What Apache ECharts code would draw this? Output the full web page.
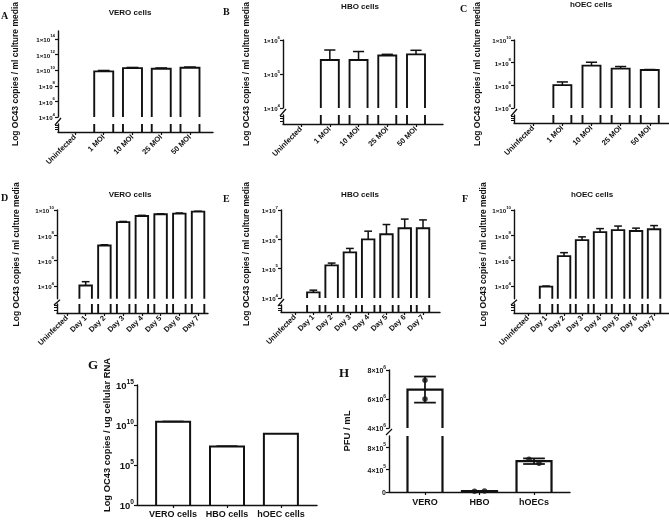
<!DOCTYPE html>
<html>
<head>
<meta charset="utf-8">
<script src="https://cdn.jsdelivr.net/npm/echarts@6.0.0/dist/echarts.min.js"></script>
<style>
  html, body { margin: 0; padding: 0; background: #fff; }
  #chart { width: 669px; height: 520px; }
</style>
</head>
<body>
<div id="chart"></div>
<script>
// categories
const moiCats = ['Uninfected', '1 MOI', '10 MOI', '25 MOI', '50 MOI']
const dayCats = ['Uninfected', 'Day 1', 'Day 2', 'Day 3', 'Day 4', 'Day 5', 'Day 6', 'Day 7']
const cellCats = ['VERO cells', 'HBO cells', 'hOEC cells']
const pfuCats = ['VERO', 'HBO', 'hOECs']

// A-C: copies / ml by MOI (mean and mean + SD)
const veroMoi = [null, 7e9, 1.8e10, 1.5e10, 2.0e10]
const veroMoiHi = [null, 9e9, 2.2e10, 1.9e10, 2.5e10]
const hboMoi = [null, 2.6e5, 2.6e5, 3.5e5, 3.8e5]
const hboMoiHi = [null, 5.1e5, 4.6e5, 3.8e5, 5.0e5]
const hoecMoi = [null, 1.05e6, 5.5e7, 3.0e7, 2.3e7]
const hoecMoiHi = [null, 2.0e6, 1.1e8, 4.6e7, 2.5e7]

// D-F: copies / ml by day
const veroDay = [null, 1.1e4, 1.6e7, 1.1e9, 3.4e9, 4.6e9, 5.2e9, 7.4e9]
const veroDayHi = [null, 2.2e4, 1.8e7, 1.25e9, 3.8e9, 5.0e9, 5.8e9, 8.0e9]
const hboDay = [null, 1.55e4, 1.3e5, 3.6e5, 1.0e6, 1.5e6, 2.4e6, 2.4e6]
const hboDayHi = [null, 1.85e4, 1.55e5, 4.9e5, 1.9e6, 3.2e6, 4.9e6, 4.6e6]
const hoecDay = [null, 9e3, 2.3e6, 4.2e7, 1.8e8, 2.6e8, 2.2e8, 3.0e8]
const hoecDayHi = [null, 1.0e4, 4.3e6, 7.6e7, 3.4e8, 5.4e8, 3.7e8, 5.9e8]

// G: copies / ug cellular RNA
const rnaMean = [2.5e10, 2.0e7, 8.0e8]
const rnaHi = [2.8e10, 2.3e7, null]

// H: PFU / mL
const pfuMean = [6.65e6, 1.5e4, 5.5e5]
const pfuHi = [7.55e6, 1.8e4, 6.0e5]
const pfuLo = [5.75e6, 1.2e4, 5.0e5]
const pfuPoints = [[7.3e6, 6.0e6], [1.4e4, 1.6e4], [5.85e5, 5.15e5]]

// tick labels
const ticksA = [1e4, 1e6, 1e8, 1e10, 1e12, 1e14]
const ticksB = [1e4, 1e5, 1e6]
const ticksC = [1e4, 1e6, 1e8, 1e10]
const ticksDF = [1e4, 1e6, 1e8, 1e10]
const ticksE = [1e4, 1e5, 1e6, 1e7]
const ticksG = [1, 1e5, 1e10, 1e15]
const ticksHUp = [4e6, 6e6, 8e6]
const ticksHLow = [0, 4e5, 8e5]

const SANS = '"Liberation Sans", Arial, sans-serif'
const SERIF = '"Liberation Serif", "Times New Roman", serif'
const INK = '#111'

const panels = [
  { id: 'A', title: 'VERO cells', cats: moiCats, mean: veroMoi, hi: veroMoiHi, ticks: ticksA, range: [1e4, 1e15],
    x: 58, x2: 213, up: [29, 117], low: [124, 132], pad: [-0.59, 4.8], barW: 19, nameGap: 38, titleAt: [130, 13], letterAt: [1, 16] },
  { id: 'B', title: 'HBO cells', cats: moiCats, mean: hboMoi, hi: hboMoiHi, ticks: ticksB, range: [1e4, 1e6],
    x: 283, x2: 443, up: [21, 108], low: [115, 124], pad: [-0.63, 4.94], barW: 18, nameGap: 32, titleAt: [360, 7], letterAt: [223, 12] },
  { id: 'C', title: 'hOEC cells', cats: moiCats, mean: hoecMoi, hi: hoecMoiHi, ticks: ticksC, range: [1e4, 1e10],
    x: 514, x2: 669, up: [21, 108], low: [115, 123], pad: [-0.66, 4.66], barW: 18, nameGap: 32, titleAt: [591, 5], letterAt: [460, 9] },
  { id: 'D', title: 'VERO cells', cats: dayCats, mean: veroDay, hi: veroDayHi, ticks: ticksDF, range: [1e3, 1e10],
    x: 57, x2: 208, up: [210, 298.7], low: [304, 313], pad: [-0.53, 7.53], barW: 12.5, nameGap: 36, titleAt: [130, 195], letterAt: [1, 198] },
  { id: 'E', title: 'HBO cells', cats: dayCats, mean: hboDay, hi: hboDayHi, ticks: ticksE, range: [1e4, 1e7],
    x: 281, x2: 440, up: [210, 298], low: [305, 312], pad: [-0.77, 7.93], barW: 12.5, nameGap: 30, titleAt: [360, 195], letterAt: [223, 199] },
  { id: 'F', title: 'hOEC cells', cats: dayCats, mean: hoecDay, hi: hoecDayHi, ticks: ticksDF, range: [1e3, 1e10],
    x: 514, x2: 669, up: [210, 298.7], low: [304, 313], pad: [-0.78, 7.83], barW: 12.5, nameGap: 25, titleAt: [592, 195], letterAt: [462, 199] }
]

const grid = []
const xAxis = []
const yAxis = []
const series = []
const graphic = []

function expLabel(v) {
  const e = Math.round(Math.log10(v))
  return '{b|1×10}{s|' + e + '}'
}

function richFor(fs) {
  return {
    b: { fontSize: fs, lineHeight: fs + 3, verticalAlign: 'bottom', fontWeight: 'bold', fontFamily: SANS, color: INK },
    s: { fontSize: fs * 0.7, lineHeight: fs * 0.7, verticalAlign: 'top', fontWeight: 'bold', fontFamily: SANS, color: INK }
  }
}

// open-bottom bar outline plus error bar, so broken segments look cut
function barRenderer(barW, lw) {
  return function (params, api) {
    const i = api.value(0)
    const v = api.value(1)
    const hi = api.value(2)
    const lo = api.value(3)
    const cs = params.coordSys
    const yBot = cs.y + cs.height
    const yTop = cs.y
    const c = api.coord([i, v])
    if (c[1] > yBot + 0.5) return
    const x0 = c[0] - barW / 2
    const x1 = c[0] + barW / 2
    const style = { stroke: INK, lineWidth: lw, fill: null, lineJoin: 'miter' }
    const children = []
    if (c[1] >= yTop) {
      children.push({ type: 'polyline', shape: { points: [[x0, yBot], [x0, c[1]], [x1, c[1]], [x1, yBot]] }, style: style })
      const capW = barW * 0.62
      const eStyle = { stroke: INK, lineWidth: lw * 0.8 }
      let yA = c[1]
      if (hi > 0) {
        const h = api.coord([i, hi])[1]
        children.push({ type: 'line', shape: { x1: c[0] - capW / 2, y1: h, x2: c[0] + capW / 2, y2: h }, style: eStyle })
        if (lo > 0) {
          const l = api.coord([i, lo])[1]
          children.push({ type: 'line', shape: { x1: c[0] - capW / 2, y1: l, x2: c[0] + capW / 2, y2: l }, style: eStyle })
          yA = l
        }
        children.push({ type: 'line', shape: { x1: c[0], y1: yA, x2: c[0], y2: h }, style: eStyle })
      }
    } else {
      children.push({ type: 'line', shape: { x1: x0, y1: yTop, x2: x0, y2: yBot }, style: style })
      children.push({ type: 'line', shape: { x1: x1, y1: yTop, x2: x1, y2: yBot }, style: style })
    }
    return { type: 'group', children: children }
  }
}

function barData(mean, hi, lo) {
  const out = []
  mean.forEach((m, i) => {
    if (m == null) return
    out.push([i, m, hi && hi[i] != null ? hi[i] : null, lo && lo[i] != null ? lo[i] : null])
  })
  return out
}

function catAxis(gridIndex, cats, pad, show, labelOpt) {
  const idx = cats.map((c, i) => i)
  return {
    gridIndex: gridIndex,
    type: 'value',
    min: pad[0],
    max: pad[1],
    show: show,
    splitLine: { show: false },
    axisLine: { show: true, onZero: false, lineStyle: { color: INK, width: 1.4 } },
    axisTick: { show: true, customValues: idx, length: 3, lineStyle: { color: INK, width: 1.2 } },
    axisLabel: Object.assign({
      customValues: idx,
      formatter: v => cats[Math.round(v)],
      color: INK,
      fontFamily: SANS,
      fontWeight: 'bold'
    }, labelOpt)
  }
}

function addSlash(x, yLow, yUp) {
  graphic.push({
    type: 'line', silent: true,
    shape: { x1: x - 3, y1: yLow, x2: x + 3, y2: yUp },
    style: { stroke: INK, lineWidth: 1.3 }
  })
}

function addText(text, x, y, font, opts) {
  graphic.push(Object.assign({
    type: 'text', silent: true, x: x, y: y,
    style: { text: text, font: font, fill: INK, align: 'center', verticalAlign: 'middle' }
  }, opts || {}))
}

function addLetter(id, x, y, size) {
  const font = 'bold ' + size + 'px ' + SERIF
  graphic.push({ type: 'text', silent: true, x: x, y: y, style: { text: id, font: font, fill: INK, align: 'left', verticalAlign: 'middle' } })
}

const yLine = { show: true, onZero: false, lineStyle: { color: INK, width: 1.4 } }

// panels A-F: log axis broken above the baseline
panels.forEach(p => {
  const gUp = grid.length
  grid.push({ left: p.x, top: p.up[0], width: p.x2 - p.x, height: p.up[1] - p.up[0] })
  const gLow = grid.length
  grid.push({ left: p.x, top: p.low[0], width: p.x2 - p.x, height: p.low[1] - p.low[0] })

  const xUp = xAxis.length
  xAxis.push(catAxis(gUp, p.cats, p.pad, false, {}))
  const xLow = xAxis.length
  xAxis.push(catAxis(gLow, p.cats, p.pad, true, { rotate: 45, fontSize: 7.5, margin: 4 }))

  const yUp = yAxis.length
  yAxis.push({
    gridIndex: gUp,
    type: 'log',
    logBase: 10,
    min: p.range[0],
    max: p.range[1] * 1.001,
    name: 'Log OC43 copies / ml culture media',
    nameLocation: 'middle',
    nameGap: p.nameGap,
    nameTextStyle: { fontFamily: SANS, fontWeight: 'bold', fontSize: 8.5, color: INK },
    splitLine: { show: false },
    axisLine: yLine,
    axisTick: { show: true, customValues: p.ticks, length: 3, lineStyle: { color: INK, width: 1.2 } },
    axisLabel: { customValues: p.ticks, formatter: expLabel, rich: richFor(6.2), margin: 3 }
  })
  const yLow = yAxis.length
  yAxis.push({
    gridIndex: gLow,
    type: 'value',
    min: 0,
    max: 1,
    splitLine: { show: false },
    axisLine: yLine,
    axisTick: { show: true, customValues: [0.3, 0.6, 0.9], length: 3, lineStyle: { color: INK, width: 1 } },
    axisLabel: { show: false }
  })

  const data = barData(p.mean, p.hi)
  series.push({ type: 'custom', xAxisIndex: xUp, yAxisIndex: yUp, clip: false, renderItem: barRenderer(p.barW, 1.9), data: data })
  series.push({ type: 'custom', xAxisIndex: xLow, yAxisIndex: yLow, clip: false, renderItem: barRenderer(p.barW, 1.9), data: data })

  addSlash(p.x, p.low[0] + 1, p.up[1] + 1)
  addText(p.title, p.titleAt[0], p.titleAt[1], 'bold 8px ' + SANS)
  addLetter(p.id, p.letterAt[0], p.letterAt[1], 10)
})

// panel G: plain log axis
{
  const g = grid.length
  grid.push({ left: 137, top: 385, width: 180, height: 120 })
  const xi = xAxis.length
  xAxis.push(catAxis(g, cellCats, [-0.67, 2.67], true, { fontSize: 9, margin: 5 }))
  const yi = yAxis.length
  yAxis.push({
    gridIndex: g,
    type: 'log',
    logBase: 10,
    min: 1,
    max: 1.001e15,
    name: 'Log OC43 copies / ug cellular RNA',
    nameLocation: 'middle',
    nameGap: 24,
    nameTextStyle: { fontFamily: SANS, fontWeight: 'bold', fontSize: 9.4, color: INK, padding: [0, 0, 0, 20] },
    splitLine: { show: false },
    axisLine: yLine,
    axisTick: { show: true, customValues: ticksG, length: 3, lineStyle: { color: INK, width: 1.2 } },
    axisLabel: {
      customValues: ticksG,
      formatter: v => '{b|10}{s|' + Math.round(Math.log10(v)) + '}',
      rich: richFor(9.5),
      margin: 3
    }
  })
  series.push({ type: 'custom', xAxisIndex: xi, yAxisIndex: yi, clip: false, renderItem: barRenderer(34, 2), data: barData(rnaMean, rnaHi) })
  addLetter('G', 88, 366, 13)
}

// panel H: linear axis broken between 1x10^6 and 4x10^6
{
  const x = 389, x2 = 570
  const gUp = grid.length
  grid.push({ left: x, top: 370, width: x2 - x, height: 58 })
  const gLow = grid.length
  grid.push({ left: x, top: 436, width: x2 - x, height: 56 })
  const xUp = xAxis.length
  xAxis.push(catAxis(gUp, pfuCats, [-0.66, 2.66], false, {}))
  const xLow = xAxis.length
  xAxis.push(catAxis(gLow, pfuCats, [-0.66, 2.66], true, { fontSize: 9, margin: 6 }))

  const pfuLabel = v => {
    if (v === 0) return '{b|0}'
    const e = Math.floor(Math.log10(v) + 1e-9)
    return '{b|' + Math.round(v / Math.pow(10, e)) + '×10}{s|' + e + '}'
  }
  const yUp = yAxis.length
  yAxis.push({
    gridIndex: gUp, type: 'value', min: 4e6, max: 8e6,
    splitLine: { show: false },
    axisLine: yLine,
    axisTick: { show: true, customValues: ticksHUp, length: 3, lineStyle: { color: INK, width: 1.2 } },
    axisLabel: { customValues: ticksHUp, formatter: pfuLabel, rich: richFor(7), margin: 3 }
  })
  const yLow = yAxis.length
  yAxis.push({
    gridIndex: gLow, type: 'value', min: 0, max: 1e6,
    splitLine: { show: false },
    axisLine: yLine,
    axisTick: { show: true, customValues: ticksHLow, length: 3, lineStyle: { color: INK, width: 1.2 } },
    axisLabel: { customValues: ticksHLow, formatter: pfuLabel, rich: richFor(7), margin: 3 }
  })

  const data = barData(pfuMean, pfuHi, pfuLo)
  series.push({ type: 'custom', xAxisIndex: xUp, yAxisIndex: yUp, clip: false, renderItem: barRenderer(35, 2.2), data: data })
  series.push({ type: 'custom', xAxisIndex: xLow, yAxisIndex: yLow, clip: false, renderItem: barRenderer(35, 2.2), data: data })

  // replicate dots; GraphPad spreads overlapping dots sideways
  const upPts = []
  const lowPts = []
  pfuPoints.forEach((pts, i) => {
    pts.forEach((v, j) => {
      const dx = i === 0 ? 0 : (j === 0 ? -5 : 5)
      const item = { value: [i, v], symbolOffset: [dx, 0] }
      if (v >= 4e6) upPts.push(item)
      else lowPts.push(item)
    })
  })
  const dotStyle = { type: 'scatter', symbol: 'circle', symbolSize: 5.5, itemStyle: { color: INK }, z: 5 }
  series.push(Object.assign({ xAxisIndex: xUp, yAxisIndex: yUp, data: upPts }, dotStyle))
  series.push(Object.assign({ xAxisIndex: xLow, yAxisIndex: yLow, data: lowPts }, dotStyle))

  addSlash(x, 435, 429)
  addText('PFU / mL', 347, 431, 'bold 9.5px ' + SANS, { rotation: Math.PI / 2 })
  addLetter('H', 339, 374, 13)
}

const chart = echarts.init(document.getElementById('chart'))
chart.setOption({
  backgroundColor: '#fff',
  animation: false,
  grid: grid,
  xAxis: xAxis,
  yAxis: yAxis,
  series: series,
  graphic: graphic
})
</script>
</body>
</html>
